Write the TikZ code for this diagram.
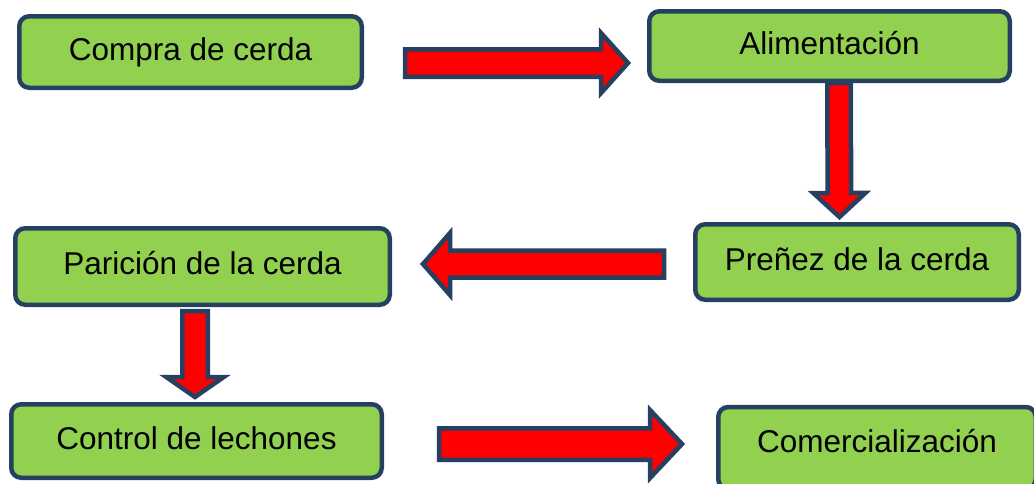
\documentclass[tikz,border=0pt]{standalone}
\usepackage{fontspec}
\setmainfont{Liberation Sans}
\usetikzlibrary{calc}

\definecolor{boxgreen}{RGB}{146,208,80}
\definecolor{edgeblue}{RGB}{38,64,97}
\definecolor{arrowred}{RGB}{255,0,0}

\tikzset{
  stepbox/.style={draw=edgeblue, fill=boxgreen, line width=4.5pt, rounded corners=10pt,
    inner sep=0pt, text height=23pt, text depth=7pt, font=\fontsize{31.5}{36}\selectfont},
  bigarrow/.style={draw=edgeblue, fill=arrowred, line width=4.5pt, line join=miter}
}

% tail, tip, half shaft, half head, head length
\newcommand{\blockarrow}[5]{%
  \coordinate (hb) at ($(#2)!#5pt!(#1)$);
  \draw[bigarrow] ($(#1)!#3pt!90:(#2)$) -- ($(hb)!#3pt!90:(#2)$) -- ($(hb)!#4pt!90:(#2)$)
    -- (#2) -- ($(hb)!#4pt!-90:(#2)$) -- ($(hb)!#3pt!-90:(#2)$) -- ($(#1)!#3pt!-90:(#2)$) -- cycle;
}

\begin{document}
\begin{tikzpicture}[x=1pt,y=-1pt]

      \useasboundingbox (0,0) rectangle (1034,483);

      \node[stepbox, minimum width=342.5pt, minimum height=71.5pt] (compra) at (190.5,52) {Compra de cerda};
      \node[stepbox, minimum width=360.5pt, minimum height=69.5pt] (alim) at (829.5,46) {Alimentación};
      \node[stepbox, minimum width=323.5pt, minimum height=75.5pt] (prenez) at (857,262) {Preñez de la cerda};
      \node[stepbox, minimum width=374.5pt, minimum height=76.5pt] (paricion) at (202.5,266.5) {Parición de la cerda};
      \node[stepbox, minimum width=370.5pt, minimum height=73.5pt] (control) at (196.5,441) {Control de lechones};
      \node[stepbox, minimum width=317.5pt, minimum height=82pt, text depth=15pt] (comerc) at (877,448) {Comercialización};

      \coordinate (a1s) at (405,63);
      \coordinate (a1e) at (628,63);
      \coordinate (a2s) at ($(alim.south)+(9.5,0)$);
      \coordinate (a2e) at (839.5,217);
      \coordinate (a3s) at (664,264);
      \coordinate (a3e) at (423,264);
      \coordinate (a4s) at (195,311);
      \coordinate (a4e) at (195,397);
      \coordinate (a5s) at (439,444);
      \coordinate (a5e) at (682,444);

      \blockarrow{a1s}{a1e}{13.75}{30}{27}
      \blockarrow{a2s}{a2e}{11.75}{26}{24}
      \blockarrow{a3s}{a3e}{13.5}{31}{27}
      \blockarrow{a4s}{a4e}{12.75}{28.75}{20}
      \blockarrow{a5s}{a5e}{15.75}{34}{32}

\end{tikzpicture}
\end{document}
